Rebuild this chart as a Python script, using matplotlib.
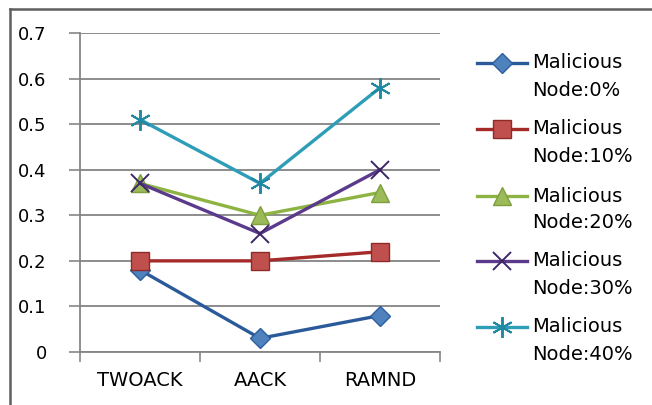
import matplotlib
matplotlib.use("Agg")
import matplotlib.pyplot as plt
from matplotlib.lines import Line2D
import numpy as np

plt.rcParams['font.family'] = ['DejaVu Sans']

categories = ["TWOACK", "AACK", "RAMND"]
series_labels = ["Malicious\nNode:0%", "Malicious\nNode:10%", "Malicious\nNode:20%",
                 "Malicious\nNode:30%", "Malicious\nNode:40%"]
node_0 = [0.18, 0.03, 0.08]
node_10 = [0.20, 0.20, 0.22]
node_20 = [0.37, 0.30, 0.35]
node_30 = [0.37, 0.26, 0.40]
node_40 = [0.51, 0.37, 0.58]
y_ticks = [0, 0.1, 0.2, 0.3, 0.4, 0.5, 0.6, 0.7]
y_tick_labels = ["0", "0.1", "0.2", "0.3", "0.4", "0.5", "0.6", "0.7"]

all_series = [node_0, node_10, node_20, node_30, node_40]
styles = [
    dict(color="#2A5A9A", marker="D", markersize=10, mfc="#4F81BD", mec="#2E5E9E", mew=1.0),
    dict(color="#A52A2A", marker="s", markersize=13, mfc="#C0504D", mec="#8E2A28", mew=1.0),
    dict(color="#8DB443", marker="^", markersize=13, mfc="#9BBB59", mec="#7E9E40", mew=1.0),
    dict(color="#5B3A8C", marker="x", markersize=13, mfc="none", mec="#3E2766", mew=1.4),
    dict(color="#2E9DB8", marker=(6, 2, 0), markersize=15, mfc="none", mec="#1F88A3", mew=1.4),
]

FS = 14
W, H = 652, 405
fig = plt.figure(figsize=(W / 100, H / 100), dpi=100)
ax = fig.add_axes([80 / W, 1 - 352 / H, 360 / W, 319 / H])

x = np.arange(len(categories)) + 0.5
for vals, st in zip(all_series, styles):
    ax.plot(x, vals, linewidth=2.4, solid_joinstyle="round", clip_on=False, **st)

ax.set_xlim(0, 3)
ax.set_ylim(0, 0.7)
ax.set_yticks(y_ticks)
ax.set_yticklabels(y_tick_labels)
ax.set_xticks(x)
ax.set_xticklabels(categories)
ax.set_xticks([0, 1, 2, 3], minor=True)
ax.tick_params(axis="x", which="major", length=0, pad=14, labelsize=FS, colors="black")
ax.tick_params(axis="x", which="minor", length=7, width=1.2, color="#868686")
ax.tick_params(axis="y", length=8, width=1.2, color="#868686", pad=16, labelsize=13)
for lbl in ax.get_yticklabels():
    lbl.set_color("black")

ax.grid(axis="y", color="#8C8C8C", linewidth=1.4)
ax.set_axisbelow(True)
for side in ("top", "right"):
    ax.spines[side].set_visible(False)
for side in ("left", "bottom"):
    ax.spines[side].set_color("#868686")
    ax.spines[side].set_linewidth(1.3)

# legend drawn to the right of the plot, handle aligned with the first text line
leg_rows = [63, 129, 196, 261, 327]
for py, st, lab in zip(leg_rows, styles, series_labels):
    yf = 1 - py / H
    fig.add_artist(Line2D([477 / W, 527 / W], [yf, yf], transform=fig.transFigure,
                          linewidth=2.4, color=st["color"]))
    mk = dict(st)
    mk.pop("color")
    fig.add_artist(Line2D([502 / W], [yf], transform=fig.transFigure, linestyle="none", **mk))
    top, bottom = lab.split("\n")
    fig.text(532 / W, yf, top, fontsize=FS, va="center", ha="left")
    fig.text(532 / W, 1 - (py + 27) / H, bottom, fontsize=FS, va="center", ha="left")

# outer chart frame
fig.add_artist(Line2D([10 / W, 1], [1 - 9 / H, 1 - 9 / H], transform=fig.transFigure,
                      color="#5F5F5F", linewidth=1.8))
fig.add_artist(Line2D([10 / W, 10 / W], [0, 1 - 9 / H], transform=fig.transFigure,
                      color="#5F5F5F", linewidth=1.8))

fig.savefig("out.png", dpi=100)
